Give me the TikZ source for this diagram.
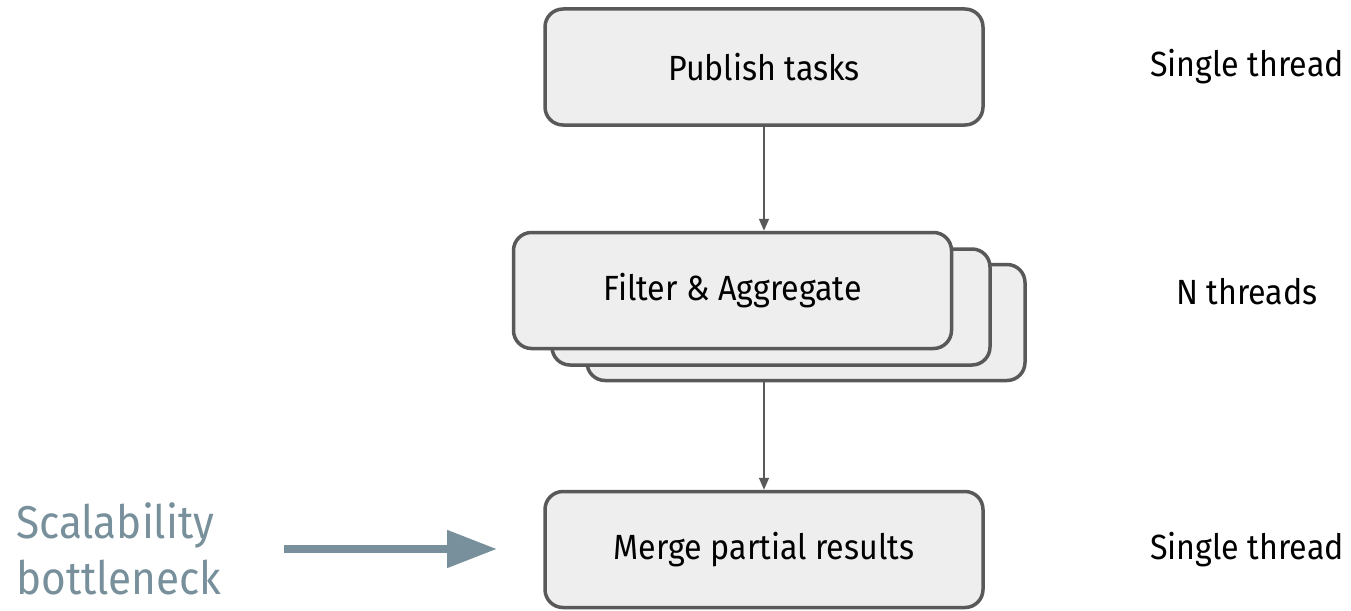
\documentclass[tikz,border=0pt]{standalone}
\usepackage{fontspec}
\setmainfont[FakeStretch=0.92]{Fira Sans}
\usetikzlibrary{arrows.meta}
\definecolor{boxfill}{HTML}{EEEEEE}
\definecolor{boxline}{HTML}{595959}
\definecolor{slate}{HTML}{78909C}
\tikzset{
  stage/.style={draw=boxline, fill=boxfill, line width=3.5pt, rounded corners=18pt,
    minimum width=438pt, minimum height=116pt, inner sep=0pt,
    font=\fontsize{35}{40}\selectfont},
  note/.style={font=\fontsize{35}{40}\selectfont, inner sep=0pt},
  flow/.style={draw=boxline, line width=1.6pt, -{Triangle[length=12pt,width=10pt]}},
  callout/.style={draw=slate, line width=8pt, -{Triangle[length=50pt,width=36pt]}}
}
\begin{document}
\begin{tikzpicture}[x=1pt,y=-1pt]
\useasboundingbox (0,0) rectangle (1351,610);

% stages
\node[stage] (publish) at (764,67) {Publish tasks};
\node[stage] (copyb) at (806,322.5) {};
\node[stage] (copya) at (771,307) {};
\node[stage] (filter) at (732.5,290.5) {Filter \& Aggregate};
\node[stage] (merge) at (764,549.5) {Merge partial results};

% thread counts
\node[note] (t1) at (1247,67) {Single thread};
\node[note] (t2) at (1247,291.5) {N threads};
\node[note] (t3) at (1247,549.5) {Single thread};

% flow between stages
\draw[flow] (publish.south) -- (publish.south |- filter.north);
\draw[flow] (merge.north |- copyb.south) -- (merge.north);

% bottleneck callout
\node[font=\fontsize{46}{56}\selectfont, text=slate, align=left, inner sep=0pt,
  anchor=west] (bneck) at (16,549) {Scalability\\bottleneck};
\coordinate (cstart) at (284,549);
\coordinate (cend) at (497,549);
\draw[callout] (cstart) -- (cend);
\end{tikzpicture}
\end{document}
